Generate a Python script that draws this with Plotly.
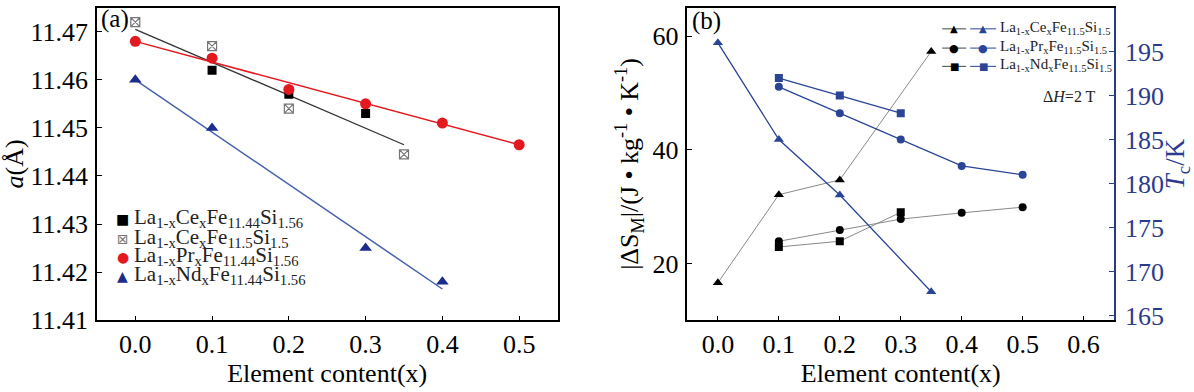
import plotly.graph_objects as go

W, H = 1194, 392
def px(x): return x / W
def py(y): return 1 - y / H

FONT = "Liberation Serif"

# ---------------- Panel (a) data ----------------
x_ce144 = [0.1, 0.2, 0.3]
a_ce144 = [11.462, 11.457, 11.453]
x_ce15 = [0.0, 0.1, 0.2, 0.35]
a_ce15 = [11.472, 11.467, 11.454, 11.4445]
x_pr = [0.0, 0.1, 0.2, 0.3, 0.4, 0.5]
a_pr = [11.468, 11.4645, 11.458, 11.455, 11.451, 11.4465]
x_nd = [0.0, 0.1, 0.3, 0.4]
a_nd = [11.460, 11.450, 11.425, 11.418]
# linear fit lines (end points)
fit_ce_x = [0.0, 0.35]
fit_ce_y = [11.4705, 11.4465]
fit_pr_x = [0.0, 0.5]
fit_pr_y = [11.468, 11.4465]
fit_nd_x = [0.0, 0.4]
fit_nd_y = [11.4600, 11.4165]

# ---------------- Panel (b) data ----------------
x_ce_b = [0.0, 0.1, 0.2, 0.35]
ds_ce = [16.6, 32.1, 34.7, 57.3]
tc_ce = [196.0, 185.0, 178.7, 167.7]
x_pr_b = [0.1, 0.2, 0.3, 0.4, 0.5]
ds_pr = [23.9, 25.9, 27.8, 28.9, 29.9]
tc_pr = [191.0, 188.0, 185.0, 182.0, 181.0]
x_nd_b = [0.1, 0.2, 0.3]
ds_nd = [22.9, 23.9, 29.0]
tc_nd = [192.0, 190.0, 188.0]

RED = "#e3191f"
BLUE_A = "#1c2c8c"
BLUE_LINE_A = "#4660ad"
BLUE_B = "#2a4596"
GRAY = "#8a8a8a"
AXBLUE = "#2b3a8c"

fig = go.Figure()

# panel a fit lines
fig.add_trace(go.Scatter(x=fit_ce_x, y=fit_ce_y, mode="lines", line=dict(color="#333333", width=1.3),
                         xaxis="x", yaxis="y", showlegend=False))
fig.add_trace(go.Scatter(x=fit_pr_x, y=fit_pr_y, mode="lines", line=dict(color=RED, width=1.5),
                         xaxis="x", yaxis="y", showlegend=False))
fig.add_trace(go.Scatter(x=fit_nd_x, y=fit_nd_y, mode="lines", line=dict(color=BLUE_LINE_A, width=1.5),
                         xaxis="x", yaxis="y", showlegend=False))
# panel a markers
fig.add_trace(go.Scatter(x=x_ce144, y=a_ce144, mode="markers",
                         marker=dict(symbol="square", size=9, color="black"),
                         xaxis="x", yaxis="y", showlegend=False))
fig.add_trace(go.Scatter(x=x_ce15, y=a_ce15, mode="markers",
                         marker=dict(symbol="square-x-open", size=9, color="#777777", line=dict(width=1.2)),
                         xaxis="x", yaxis="y", showlegend=False))
fig.add_trace(go.Scatter(x=x_pr, y=a_pr, mode="markers",
                         marker=dict(symbol="circle", size=11, color=RED),
                         xaxis="x", yaxis="y", showlegend=False))
fig.add_trace(go.Scatter(x=x_nd, y=a_nd, mode="markers",
                         marker=dict(symbol="triangle-up", size=11, color=BLUE_A),
                         xaxis="x", yaxis="y", showlegend=False))

# panel b
lw = 1.0
fig.add_trace(go.Scatter(x=x_ce_b, y=ds_ce, mode="lines+markers", line=dict(color=GRAY, width=lw),
                         marker=dict(symbol="triangle-up", size=9, color="black"),
                         xaxis="x2", yaxis="y2", showlegend=False))
fig.add_trace(go.Scatter(x=x_pr_b, y=ds_pr, mode="lines+markers", line=dict(color=GRAY, width=lw),
                         marker=dict(symbol="circle", size=8, color="black"),
                         xaxis="x2", yaxis="y2", showlegend=False))
fig.add_trace(go.Scatter(x=x_nd_b, y=ds_nd, mode="lines+markers", line=dict(color=GRAY, width=lw),
                         marker=dict(symbol="square", size=8, color="black"),
                         xaxis="x2", yaxis="y2", showlegend=False))
fig.add_trace(go.Scatter(x=x_ce_b, y=tc_ce, mode="lines+markers", line=dict(color=BLUE_B, width=1.3),
                         marker=dict(symbol="triangle-up", size=9, color=BLUE_B),
                         xaxis="x2", yaxis="y3", showlegend=False))
fig.add_trace(go.Scatter(x=x_pr_b, y=tc_pr, mode="lines+markers", line=dict(color=BLUE_B, width=1.3),
                         marker=dict(symbol="circle", size=8, color=BLUE_B),
                         xaxis="x2", yaxis="y3", showlegend=False))
fig.add_trace(go.Scatter(x=x_nd_b, y=tc_nd, mode="lines+markers", line=dict(color=BLUE_B, width=1.3),
                         marker=dict(symbol="square", size=8, color=BLUE_B),
                         xaxis="x2", yaxis="y3", showlegend=False))

tickfont = dict(family=FONT, size=26, color="black")
titlefont = dict(family=FONT, size=26, color="black")
common = dict(showgrid=False, zeroline=False, showline=True, linecolor="black", linewidth=1.5,
              ticks="inside", ticklen=5, tickwidth=1.2, tickcolor="black", tickfont=tickfont)

xa_dom = [px(97), px(558)]
xb_dom = [px(688), px(1115)]
y_dom = [py(333), py(8)]

fig.update_layout(
    width=W, height=H, margin=dict(l=0, r=0, t=0, b=0),
    paper_bgcolor="white", plot_bgcolor="white",
    font=dict(family=FONT, color="black"),
    xaxis=dict(domain=xa_dom, range=[-0.05, 0.55], tickvals=[0, 0.1, 0.2, 0.3, 0.4, 0.5],
               ticktext=["0.0", "0.1", "0.2", "0.3", "0.4", "0.5"], mirror=True, anchor="y",
               ticklabelstandoff=0,
               title=dict(text="Element content(x)", font=titlefont, standoff=4), **common),
    yaxis=dict(domain=y_dom, range=[11.41, 11.475], tickvals=[11.41, 11.42, 11.43, 11.44, 11.45, 11.46, 11.47],
               ticktext=["11.41", "11.42", "11.43", "11.44", "11.45", "11.46", "11.47"], mirror=True, anchor="x",
               ticklabelstandoff=2,
               title=dict(text="<i>a</i>(Å)", font=titlefont, standoff=8), **common),
    xaxis2=dict(domain=xb_dom, range=[-0.05, 0.65], tickvals=[0, 0.1, 0.2, 0.3, 0.4, 0.5, 0.6],
                ticktext=["0.0", "0.1", "0.2", "0.3", "0.4", "0.5", "0.6"], mirror=True, anchor="y2",
                ticklabelstandoff=0,
                title=dict(text="Element content(x)", font=titlefont, standoff=4), **common),
    yaxis2=dict(domain=y_dom, range=[10, 65], tickvals=[20, 40, 60], anchor="x2", ticklabelstandoff=2,
                title=dict(text="|ΔS<sub>M</sub>|/(J • kg<sup>-1</sup> • K<sup>-1</sup>)", font=titlefont, standoff=6),
                **common),
    yaxis3=dict(domain=y_dom, range=[164.45, 200], tickvals=[165, 170, 175, 180, 185, 190, 195, 200],
                overlaying="y2", side="right", anchor="x2", showgrid=False, zeroline=False, showline=True,
                linecolor=AXBLUE, linewidth=1.5, ticks="inside", ticklen=5, tickwidth=1.2, tickcolor=AXBLUE,
                ticklabelstandoff=4,
                tickfont=dict(family=FONT, size=26, color=AXBLUE),
                title=dict(text="<i>T</i><sub>c</sub>/K", font=dict(family=FONT, size=27, color=AXBLUE), standoff=11)),
)

ann = []
ann.append(dict(text="(a)", x=px(99), y=py(20), xref="paper", yref="paper", xanchor="left", yanchor="middle",
                showarrow=False, font=dict(family=FONT, size=25)))
ann.append(dict(text="(b)", x=px(691), y=py(22), xref="paper", yref="paper", xanchor="left", yanchor="middle",
                showarrow=False, font=dict(family=FONT, size=25)))

# legend (a)
leg_a = [
    ("<span style='color:black'>■</span>", "La<sub>1-x</sub>Ce<sub>x</sub>Fe<sub>11.44</sub>Si<sub>1.56</sub>", 228),
    ("<span style='color:#777777'>⊠</span>", "La<sub>1-x</sub>Ce<sub>x</sub>Fe<sub>11.5</sub>Si<sub>1.5</sub>", 248),
    ("<span style='color:%s'>●</span>" % RED, "La<sub>1-x</sub>Pr<sub>x</sub>Fe<sub>11.44</sub>Si<sub>1.56</sub>", 267),
    ("<span style='color:%s'>▲</span>" % BLUE_A, "La<sub>1-x</sub>Nd<sub>x</sub>Fe<sub>11.44</sub>Si<sub>1.56</sub>", 287),
]
for sym, label, yy in leg_a:
    ann.append(dict(text=sym, x=px(123), y=py(yy), xref="paper", yref="paper", xanchor="center", yanchor="middle",
                    showarrow=False, font=dict(family="DejaVu Sans", size=14)))
    ann.append(dict(text=label, x=px(132), y=py(yy - 1), xref="paper", yref="paper", xanchor="left", yanchor="middle",
                    showarrow=False, font=dict(family=FONT, size=21, color="#222222")))

# legend (b): line segments as shapes, symbols as text
shapes = []
leg_b = [
    ("▲", "La<sub>1-x</sub>Ce<sub>x</sub>Fe<sub>11.5</sub>Si<sub>1.5</sub>", 30, 10),
    ("●", "La<sub>1-x</sub>Pr<sub>x</sub>Fe<sub>11.5</sub>Si<sub>1.5</sub>", 50, 11),
    ("■", "La<sub>1-x</sub>Nd<sub>x</sub>Fe<sub>11.5</sub>Si<sub>1.5</sub>", 69, 10),
]
for sym, label, yy, fs in leg_b:
    for (x0, x1, col) in [(943, 967, "#444444"), (971, 997, BLUE_B)]:
        shapes.append(dict(type="line", xref="paper", yref="paper", x0=px(x0), x1=px(x1), y0=py(yy), y1=py(yy),
                           line=dict(color=col, width=1)))
        ann.append(dict(text=sym, x=px((x0 + x1) / 2), y=py(yy), xref="paper", yref="paper", xanchor="center",
                        yanchor="middle", showarrow=False,
                        font=dict(family="DejaVu Sans", size=fs, color="black" if col != BLUE_B else BLUE_B)))
    ann.append(dict(text=label, x=px(999), y=py(yy - 1), xref="paper", yref="paper", xanchor="left", yanchor="middle",
                    showarrow=False, font=dict(family=FONT, size=15, color="#222222")))
ann.append(dict(text="Δ<i>H</i>=2 T", x=px(1099), y=py(100), xref="paper", yref="paper", xanchor="right",
                yanchor="middle", showarrow=False, font=dict(family=FONT, size=16, color="#222222")))

fig.update_layout(annotations=ann, shapes=shapes)
fig.write_html("out.html", config={"displayModeBar": False},
               post_script="document.body.style.margin='0';")
